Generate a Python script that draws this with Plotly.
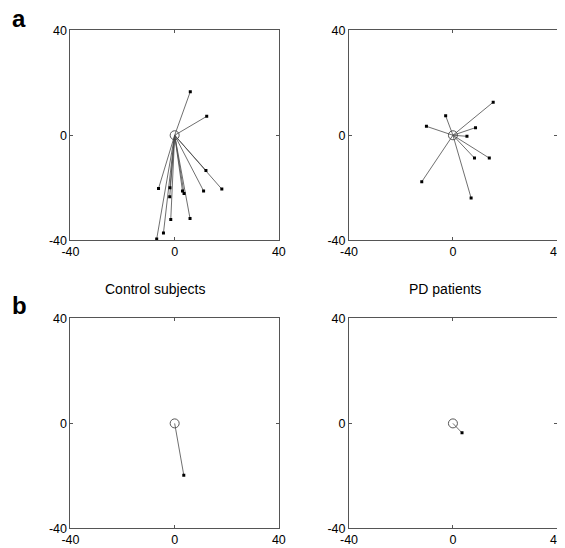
import plotly.graph_objects as go

# ---- data ----
tick_vals = [-40, 0, 40]
tick_text = ["-40", "0", "40"]
axis_range = [-40, 40]
origin = [0.0, 0.0]

# a: individual endpoints, control subjects
ctrl_x = [6.0, 12.3, 12.0, 18.1, 11.1, 3.0, 3.6, 5.9, -1.5, -1.9, -1.8, -6.2, -4.3, -6.9]
ctrl_y = [16.6, 7.2, -13.4, -20.5, -21.2, -21.2, -22.2, -31.7, -32.1, -23.4, -20.0, -20.3, -37.2, -39.5]

# a: individual endpoints, PD patients
pd_x = [15.5, -2.8, -10.2, 8.7, 5.4, 8.3, 14.0, -12.0, 7.0]
pd_y = [12.6, 7.4, 3.4, 2.9, -0.4, -8.7, -8.7, -17.7, -23.9]

# b: group means
ctrl_mean_x = [3.5]
ctrl_mean_y = [-19.7]
pd_mean_x = [3.5]
pd_mean_y = [-3.6]

titles = ["Control subjects", "PD patients"]
panel_labels = ["a", "b"]

W, H = 565, 548
LINE_COL = "#4a4a4a"
FRAME_COL = "#555555"
FONT = "Liberation Sans, Arial, sans-serif"

# empirical mapping between layout pixels and rendered pixels
SX, OX = 0.9725, 17.2
SY, OY = 0.974, 14.8


def fx(t):
    return (t - OX) / SX / W


def fy(t):
    return 1 - (t - OY) / SY / H


def px_x(a, b):
    return [fx(a), fx(b)]


def px_y(top, bottom):
    return [fy(bottom), fy(top)]


domains = [
    (px_x(70.7, 279.3), px_y(30, 240)),
    (px_x(349.5, 557.5), px_y(30, 240)),
    (px_x(70.7, 279.3), px_y(318, 528)),
    (px_x(349.5, 557.5), px_y(318, 528)),
]

panels = [
    (ctrl_x, ctrl_y),
    (pd_x, pd_y),
    (ctrl_mean_x, ctrl_mean_y),
    (pd_mean_x, pd_mean_y),
]

fig = go.Figure()
layout = dict(
    width=W, height=H,
    margin=dict(l=0, r=0, t=0, b=0),
    paper_bgcolor="white", plot_bgcolor="white",
    showlegend=False,
    font=dict(family=FONT, size=12, color="black"),
)

for i, ((ex, ey), (dx, dy)) in enumerate(zip(panels, domains)):
    n = "" if i == 0 else str(i + 1)
    xa, ya = "x" + n, "y" + n
    lx, ly = [], []
    for x, y in zip(ex, ey):
        lx += [origin[0], x, None]
        ly += [origin[1], y, None]
    fig.add_trace(go.Scatter(x=lx, y=ly, mode="lines",
                             line=dict(color=LINE_COL, width=0.8),
                             xaxis=xa, yaxis=ya, hoverinfo="skip"))
    fig.add_trace(go.Scatter(x=ex, y=ey, mode="markers",
                             marker=dict(color="black", size=3, symbol="square"),
                             xaxis=xa, yaxis=ya))
    fig.add_trace(go.Scatter(x=[origin[0]], y=[origin[1]], mode="markers",
                             marker=dict(symbol="circle-open", size=9,
                                         color="#444444", line=dict(width=0.9)),
                             xaxis=xa, yaxis=ya))
    common = dict(range=axis_range, tickvals=tick_vals, ticktext=tick_text,
                  showgrid=False, zeroline=False, showline=True,
                  linecolor=FRAME_COL, linewidth=1, mirror="ticks",
                  ticks="inside", ticklen=3, tickcolor=FRAME_COL, tickwidth=1,
                  ticklabeloverflow="allow",
                  tickfont=dict(family=FONT, size=12.5, color="black"))
    layout["xaxis" + n] = dict(domain=dx, anchor=ya, **common)
    layout["yaxis" + n] = dict(domain=dy, anchor=xa, **common)

fig.update_layout(**layout)

# panel titles between rows
for t, xc in zip(titles, [155, 446]):
    fig.add_annotation(text=t, x=fx(xc), y=fy(289), xref="paper", yref="paper",
                       xanchor="center", yanchor="middle", showarrow=False,
                       font=dict(family=FONT, size=14, color="black"))

# panel letters
for lab, yc in zip(panel_labels, [18, 305]):
    fig.add_annotation(text="<b>%s</b>" % lab, x=fx(11), y=fy(yc),
                       xref="paper", yref="paper", xanchor="left", yanchor="middle",
                       showarrow=False, borderpad=0,
                       font=dict(family=FONT, size=24, color="black"))

fig.write_html("out.html")
